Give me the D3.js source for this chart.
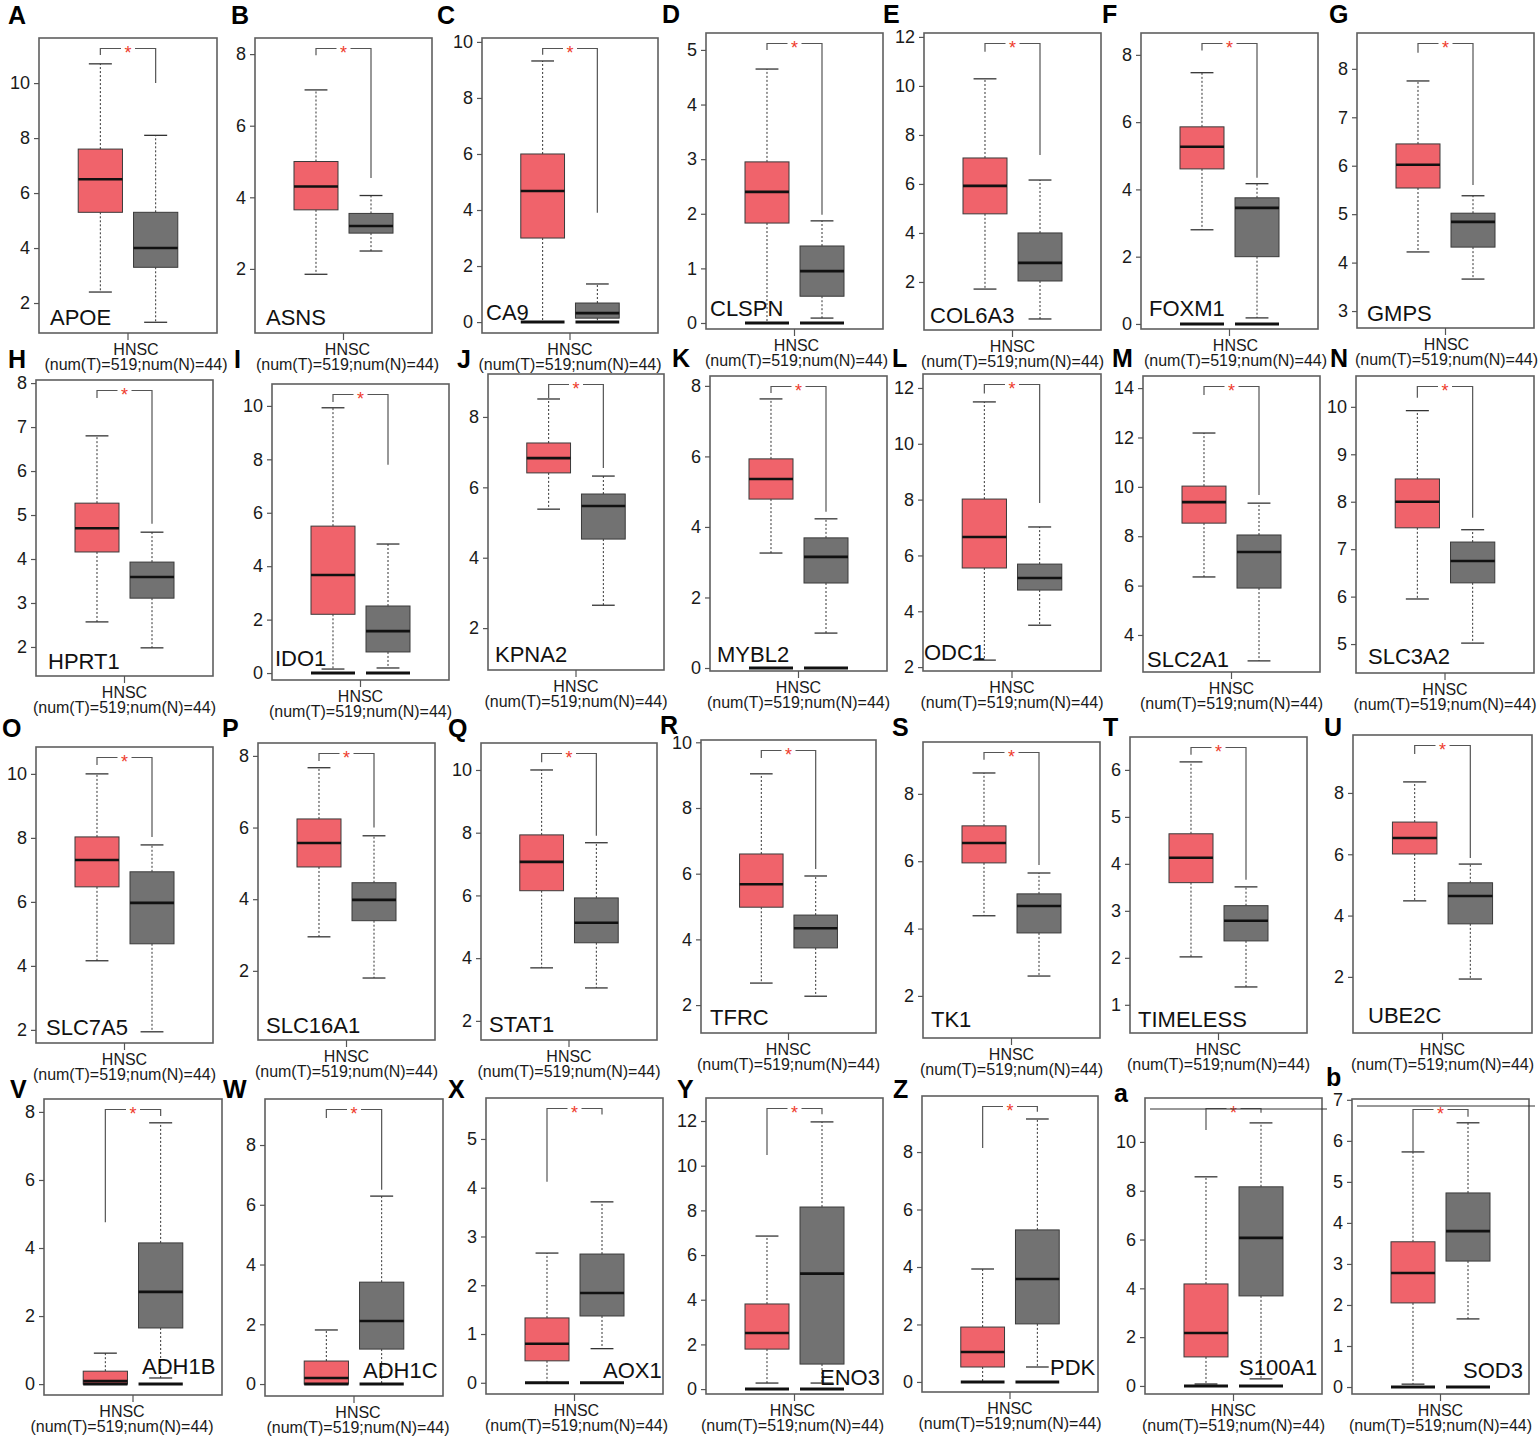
<!DOCTYPE html>
<html>
<head>
<meta charset="utf-8">
<script src="https://cdn.jsdelivr.net/npm/d3@7"></script>
<style>
  body { margin: 0; background: #fff; }
  svg { display: block; }
</style>
</head>
<body>
<svg id="fig" width="1538" height="1442"></svg>
<script>
// panel letters and gene names
const letters = ["A","B","C","D","E","F","G","H","I","J","K","L","M","N",
  "O","P","Q","R","S","T","U","V","W","X","Y","Z","a","b"];
const genes = ["APOE","ASNS","CA9","CLSPN","COL6A3","FOXM1","GMPS","HPRT1","IDO1","KPNA2",
  "MYBL2","ODC1","SLC2A1","SLC3A2","SLC7A5","SLC16A1","STAT1","TFRC","TK1","TIMELESS",
  "UBE2C","ADH1B","ADH1C","AOX1","ENO3","PDK","S100A1","SOD3"];
const groups = ["Tumor", "Normal"];
const cohort = "HNSC";
const counts = "(num(T)=519;num(N)=44)";

// box stats: [lower whisker, q1, median, q3, upper whisker]
const tumorStats = [
  [2.4,5.3,6.5,7.6,10.7], [1.85,3.65,4.3,5.0,7.0], [0,3.0,4.68,6.0,9.32],
  [0,1.83,2.4,2.95,4.65], [1.71,4.78,5.92,7.06,10.29], [2.8,4.61,5.27,5.86,7.47],
  [4.22,5.54,6.02,6.45,7.75], [2.57,4.16,4.7,5.27,6.8], [0.15,2.2,3.67,5.5,9.93],
  [5.38,6.41,6.83,7.26,8.51], [3.26,4.79,5.36,5.93,7.63], [2.25,5.55,6.66,8.02,11.5],
  [6.35,8.53,9.38,10.03,12.18], [5.95,7.45,8.0,8.48,9.92], [4.16,6.47,7.31,8.03,10.0],
  [2.95,4.9,5.57,6.24,7.67], [3.69,6.15,7.07,7.93,10.0], [2.67,4.98,5.68,6.6,9.04],
  [4.38,5.95,6.54,7.05,8.62], [2.02,3.6,4.13,4.64,6.17], [4.48,6.01,6.53,7.05,8.36],
  [0,0,0.09,0.38,0.91], [0,0,0.2,0.77,1.81], [0,0.45,0.8,1.33,2.66],
  [0.27,1.79,2.51,3.81,6.85], [0,0.52,1.04,1.91,3.93], [0.08,1.19,2.17,4.18,8.57],
  [0.07,2.05,2.78,3.54,5.73]
];
const normalStats = [
  [1.3,3.3,4.0,5.3,8.1], [2.5,3.0,3.2,3.55,4.05], [0,0.14,0.32,0.68,1.36],
  [0.09,0.49,0.95,1.41,1.87], [0.49,2.04,2.78,4.0,6.16], [0.18,2.0,3.45,3.75,4.17],
  [3.66,4.32,4.84,5.02,5.38], [1.98,3.11,3.59,3.93,4.61], [0.19,0.79,1.57,2.51,4.83],
  [2.65,4.53,5.47,5.81,6.32], [0.99,2.41,3.15,3.69,4.23], [3.5,4.76,5.19,5.69,7.02],
  [2.95,5.9,7.36,8.05,9.34], [5.02,6.29,6.75,7.15,7.41], [1.94,4.69,5.97,6.94,7.78],
  [1.8,3.4,3.98,4.46,5.77], [3.05,4.49,5.13,5.92,7.68], [2.27,3.74,4.34,4.74,5.93],
  [2.59,3.87,4.67,5.03,5.65], [1.38,2.36,2.79,3.11,3.51], [1.93,3.73,4.64,5.07,5.68],
  [0.18,1.65,2.71,4.15,7.68], [0,1.17,2.11,3.41,6.29], [0.7,1.37,1.84,2.64,3.71],
  [0.27,1.12,5.17,8.15,11.96], [0.52,2.02,3.58,5.29,9.15], [0.29,3.69,6.07,8.16,10.78],
  [1.66,3.07,3.8,4.73,6.44]
];

// y values seen at the bottom and top edge of each frame
const yDomains = [
  [0.91,11.64], [0.21,8.45], [-0.39,10.14], [-0.11,5.31], [0.04,12.16], [-0.15,8.65],
  [2.65,8.74], [1.34,8.07], [-0.26,10.82], [0.81,9.22], [-0.085,8.28], [1.86,12.5],
  [2.5,14.49], [4.39,10.65], [1.59,10.84], [0.07,8.36], [1.39,10.86], [1.15,10.07],
  [0.75,9.54], [0.40,6.70], [0.17,9.89], [-0.32,8.38], [-0.40,9.54], [-0.23,5.84],
  [-0.22,13.03], [-0.35,9.95], [-0.33,11.8], [-0.17,7.02]
];
const tickSteps = [2,2,2,1,2,2,1,1,2,2,2,2,2,1,2,2,2,2,2,1,2,2,2,1,2,2,2,1];

// where the significance bracket legs stop: [tumor side, normal side]
const bracketLegs = [
  [11.02,10.0], [7.97,4.54], [9.54,3.9], [5.0,1.98], [11.39,7.18], [8.13,4.35],
  [8.33,5.6], [7.66,4.8], [10.15,7.8], [8.54,6.55], [7.8,4.43], [11.8,7.88],
  [13.72,9.67], [10.19,7.66], [10.28,8.03], [7.86,6.0], [10.25,7.9], [9.52,6.14],
  [9.01,5.89], [6.32,3.66], [9.27,5.88], [4.76,7.88], [8.9,6.5], [4.12,5.5],
  [10.48,12.3], [8.14,9.4], [10.49,11.2], [5.73,6.59]
];

// panels where many samples sit at 0 (drawn as a bar at 0 under each box)
const zeroPile = [false,false,true,true,false,true,false,false,true,false,true,false,
  false,false,false,false,false,false,false,false,false,true,true,true,true,true,true,true];

// ---- layout (pixels) ----
// frame [x0, x1, y0, y1]
const frames = [
  [39,217,38,333], [255,432,38,333], [482,658,38,333], [706,883,33,329],
  [924,1101,33,330], [1141,1318,33,329], [1357,1534,33,328],
  [36,213,380,676], [272,449,384,680], [488,664,374,670], [710,887,376,671],
  [923,1101,374,671], [1143,1320,376,672], [1356,1534,376,673],
  [36,213,747,1043], [258,435,743,1040], [481,657,743,1040], [701,876,740,1033],
  [923,1100,742,1038], [1130,1307,737,1033], [1353,1532,735,1033],
  [44,222,1099,1395], [265,443,1099,1396], [486,663,1098,1394], [706,883,1098,1394],
  [922,1098,1096,1392], [1145,1322,1098,1394], [1352,1529,1099,1394]
];
const letterPos = [
  [8,24],[231,24],[437,24],[662,23],[883,23],[1102,23],[1329,23],
  [8,368],[234,368],[457,368],[672,367],[892,367],[1112,367],[1330,367],
  [2,737],[222,737],[448,737],[660,734],[892,736],[1103,736],[1324,736],
  [10,1098],[223,1098],[448,1098],[677,1098],[893,1098],[1114,1102],[1326,1086]
];
const genePos = [
  [50,325],[266,325],[486,320],[710,316],[930,323],[1149,316],[1367,321],
  [48,669],[275,666],[495,662],[717,662],[924,660],[1147,667],[1368,664],
  [46,1035],[266,1033],[489,1032],[710,1025],[931,1027],[1138,1027],[1368,1023],
  [142,1374],[363,1378],[603,1378],[820,1385],[1050,1375],[1239,1375],[1463,1378]
];
// offset of the cohort caption from the frame centre
const captionShift = [8,4,0,2,0,6,1, 0,0,0,0,0,0,0, 0,0,0,0,0,0,0, -11,4,2,-2,0,0,0];
// stray rule lines across the top of the last two panels
const strayLines = [[1150,1327,1109],[1357,1535,1106]];

const svg = d3.select("#fig");
const font = "'Liberation Sans', Arial, Helvetica, sans-serif";
const tumorFill = "#f0636b";
const normalFill = "#727272";

var drawBox = (g, cx, bw, s, y, fill) => {
  // dotted whiskers
  g.append("line").attr("x1", cx).attr("x2", cx)
    .attr("y1", y(s[3])).attr("y2", y(s[4]))
    .attr("stroke", "#333").attr("stroke-width", 1).attr("stroke-dasharray", "2,2");
  g.append("line").attr("x1", cx).attr("x2", cx)
    .attr("y1", y(s[1])).attr("y2", y(s[0]))
    .attr("stroke", "#333").attr("stroke-width", 1).attr("stroke-dasharray", "2,2");
  // caps
  [s[0], s[4]].forEach(v => {
    g.append("line").attr("x1", cx - bw * 0.26).attr("x2", cx + bw * 0.26)
      .attr("y1", y(v)).attr("y2", y(v))
      .attr("stroke", "#333").attr("stroke-width", 1.3);
  });
  g.append("rect")
    .attr("x", cx - bw / 2).attr("width", bw)
    .attr("y", y(s[3])).attr("height", Math.max(1, y(s[1]) - y(s[3])))
    .attr("fill", fill).attr("stroke", "#3a3a3a").attr("stroke-width", 1);
  g.append("line").attr("x1", cx - bw / 2).attr("x2", cx + bw / 2)
    .attr("y1", y(s[2])).attr("y2", y(s[2]))
    .attr("stroke", "#111").attr("stroke-width", 2.6);
}

letters.forEach((letter, i) => {
  const [x0, x1, y0, y1] = frames[i];
  const g = svg.append("g");

  const y = d3.scaleLinear().domain(yDomains[i]).range([y1, y0]);
  const x = d3.scalePoint().domain(groups).range([x0, x1]).padding(1.109);
  const bw = x.step() * 0.8;

  // frame
  g.append("rect").attr("x", x0).attr("y", y0)
    .attr("width", x1 - x0).attr("height", y1 - y0)
    .attr("fill", "none").attr("stroke", "#5f5f5f").attr("stroke-width", 1.6);

  // y axis
  const step = tickSteps[i];
  const d = yDomains[i];
  const ticks = d3.range(Math.ceil(d[0] / step) * step, d[1] + 1e-9, step);
  const axis = d3.axisLeft(y).tickValues(ticks).tickSize(5).tickPadding(4).tickFormat(d3.format("d"));
  const ax = g.append("g").attr("transform", "translate(" + x0 + ",0)").call(axis);
  ax.select(".domain").remove();
  ax.selectAll(".tick line").attr("stroke", "#555").attr("stroke-width", 1.2);
  ax.selectAll(".tick text").attr("font-family", font).attr("font-size", 18).attr("fill", "#1a1a1a");

  // boxes
  drawBox(g, x("Tumor"), bw, tumorStats[i], y, tumorFill);
  drawBox(g, x("Normal"), bw, normalStats[i], y, normalFill);

  if (zeroPile[i]) {
    groups.forEach(k => {
      g.append("line").attr("x1", x(k) - bw / 2).attr("x2", x(k) + bw / 2)
        .attr("y1", y(0)).attr("y2", y(0))
        .attr("stroke", "#111").attr("stroke-width", 3);
    });
  }

  // significance bracket
  const by = y0 + 10.5;
  const xt = x("Tumor"), xn = x("Normal");
  g.append("path")
    .attr("d", "M" + xt + "," + y(bracketLegs[i][0]) + "V" + by + "H" + xn + "V" + y(bracketLegs[i][1]))
    .attr("fill", "none").attr("stroke", "#555").attr("stroke-width", 1.2);
  const mx = (xt + xn) / 2;
  g.append("rect").attr("x", mx - 7).attr("y", by - 5).attr("width", 14).attr("height", 10).attr("fill", "#fff");
  g.append("text").attr("x", mx).attr("y", by + 10)
    .attr("text-anchor", "middle").attr("font-family", font).attr("font-size", 18)
    .attr("fill", "#ee3b2c").text("*");

  // x tick and cohort label
  const cx = (x0 + x1) / 2;
  g.append("line").attr("x1", cx).attr("x2", cx).attr("y1", y1).attr("y2", y1 + 7)
    .attr("stroke", "#555").attr("stroke-width", 1.2);
  g.append("text").attr("x", cx + captionShift[i]).attr("y", y1 + 22)
    .attr("text-anchor", "middle").attr("font-family", font).attr("font-size", 16)
    .attr("fill", "#1a1a1a").text(cohort);
  g.append("text").attr("x", cx + captionShift[i]).attr("y", y1 + 37)
    .attr("text-anchor", "middle").attr("font-family", font).attr("font-size", 16)
    .attr("fill", "#1a1a1a").text(counts);

  // gene name
  g.append("text").attr("x", genePos[i][0]).attr("y", genePos[i][1])
    .attr("font-family", font).attr("font-size", 22).attr("fill", "#111").text(genes[i]);

  // panel letter
  svg.append("text").attr("x", letterPos[i][0]).attr("y", letterPos[i][1])
    .attr("font-family", font).attr("font-size", 25).attr("font-weight", "bold")
    .attr("fill", "#000").text(letter);
});

strayLines.forEach(l => {
  svg.append("line").attr("x1", l[0]).attr("x2", l[1]).attr("y1", l[2]).attr("y2", l[2])
    .attr("stroke", "#333").attr("stroke-width", 1);
});
</script>
</body>
</html>
